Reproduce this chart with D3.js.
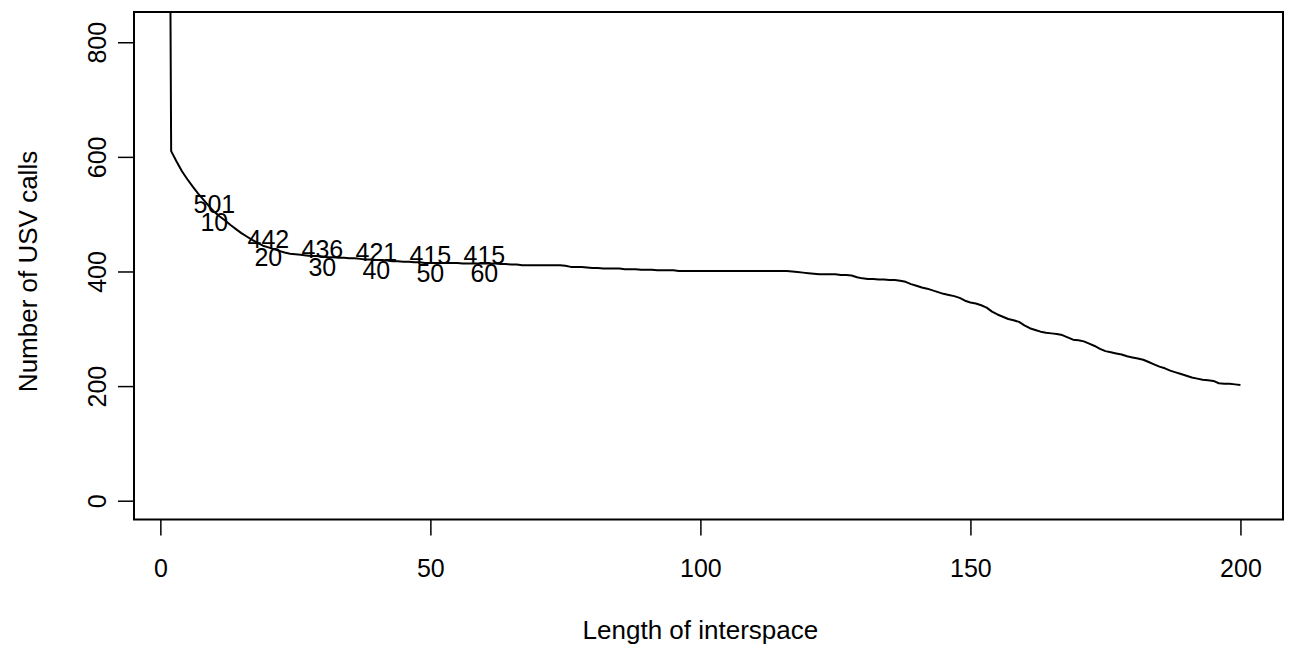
<!DOCTYPE html>
<html>
<head>
<meta charset="utf-8">
<script src="https://cdn.jsdelivr.net/npm/d3@7"></script>
<style>
  body { margin: 0; background: #fff; }
  svg text { font-family: "Liberation Sans", Arial, Helvetica, sans-serif; fill: #000; }
</style>
</head>
<body>
<div id="chart"></div>
<script>
// size of the page
var w = 1290;
var h = 646;

// interspace lengths and number of calls (x = 1 is far above the visible range)
var lengths = d3.range(1, 201);
var calls = [2500,
  610, 592, 575, 561, 548, 536, 525, 514, 504,
  496, 489, 481, 474, 467, 461, 455, 450, 445, 442,
  439, 436, 433, 431, 430, 429, 428, 427, 427, 426,
  425, 425, 424, 424, 423, 423, 422, 421, 421, 420,
  420, 419, 418, 418, 417, 417, 416, 416, 415, 415,
  415, 415, 415, 415, 415, 414, 414, 414, 414, 414,
  414, 414, 413, 413, 412, 412, 411, 411, 411, 411,
  411, 411, 411, 411, 410, 408, 408, 408, 407, 406,
  406, 405, 405, 405, 405, 404, 404, 404, 403, 403,
  403, 402, 402, 402, 402, 401, 401, 401, 401, 401,
  401, 401, 401, 401, 401, 401, 401, 401, 401, 401,
  401, 401, 401, 401, 401, 401, 400, 399, 398, 397,
  396, 395, 395, 395, 395, 394, 394, 393, 390, 388,
  387, 387, 386, 386, 385, 385, 384, 382, 378, 375,
  372, 370, 367, 364, 361, 359, 357, 354, 349, 346,
  344, 341, 337, 330, 325, 321, 317, 315, 312, 306,
  301, 298, 295, 293, 292, 291, 289, 285, 281, 280,
  278, 274, 270, 265, 261, 259, 257, 255, 252, 250,
  248, 246, 242, 238, 234, 231, 227, 224, 221, 218,
  215, 213, 211, 210, 209, 205, 204, 204, 203, 202];

// annotated points
var labelX = [10, 20, 30, 40, 50, 60];
var labelCalls = [501, 442, 436, 421, 415, 415];

var xTicks = [0, 50, 100, 150, 200];
var yTicks = [0, 200, 400, 600, 800];

var mLeft = 134, mRight = 1283, mTop = 12, mBottom = 519.5;
var fs = "25px";

var x = d3.scaleLinear().domain([-4.88, 207.88]).range([mLeft, mRight]);
var y = d3.scaleLinear().domain([-32.8, 852.8]).range([mBottom, mTop]);

var svg = d3.select("#chart")
            .append("svg")
            .attr("width", w)
            .attr("height", h);

svg.append("defs").append("clipPath")
    .attr("id", "plotclip")
    .append("rect")
    .attr("x", mLeft).attr("y", mTop)
    .attr("width", mRight - mLeft).attr("height", mBottom - mTop);

var data = lengths.map(function(d, i){ return [d, calls[i]]; });

var line = d3.line()
            .x(function(d){ return x(d[0]); })
            .y(function(d){ return y(d[1]); });

svg.append("path")
    .datum(data)
    .attr("clip-path", "url(#plotclip)")
    .attr("d", line)
    .attr("fill", "none")
    .attr("stroke", "#000")
    .attr("stroke-width", 2)
    .attr("stroke-linejoin", "round");

// labels: number of calls above, interspace length below
labelX.forEach(function(lx, i){
    var v = calls[lengths.indexOf(lx)];
    svg.append("text")
        .attr("x", x(lx))
        .attr("y", y(v) - 8)
        .attr("dy", "0.36em")
        .attr("text-anchor", "middle")
        .style("font-size", fs)
        .text(labelCalls[i]);
    svg.append("text")
        .attr("x", x(lx))
        .attr("y", y(v) + 10)
        .attr("dy", "0.36em")
        .attr("text-anchor", "middle")
        .style("font-size", fs)
        .text(lx);
});

// box
svg.append("rect")
    .attr("x", mLeft).attr("y", mTop)
    .attr("width", mRight - mLeft).attr("height", mBottom - mTop)
    .attr("fill", "none")
    .attr("stroke", "#000")
    .attr("stroke-width", 2);

// axes
var xAxis = d3.axisBottom(x).tickValues(xTicks).tickSize(16).tickPadding(24)
                .tickFormat(d3.format("d"));
var gx = svg.append("g")
    .attr("transform", "translate(0," + mBottom + ")")
    .call(xAxis);
gx.select(".domain").remove();
gx.selectAll(".tick line").attr("stroke-width", 1.5);
gx.selectAll(".tick text").style("font-size", fs).attr("font-family", null);

var yAxis = d3.axisLeft(y).tickValues(yTicks).tickSize(16).tickFormat(d3.format("d"));
var gy = svg.append("g")
    .attr("transform", "translate(" + mLeft + ",0)")
    .call(yAxis);
gy.select(".domain").remove();
gy.selectAll(".tick line").attr("stroke-width", 1.5);
gy.selectAll(".tick text").remove();
gy.selectAll(".tick").append("text")
    .attr("transform", "translate(-28,0) rotate(-90)")
    .attr("text-anchor", "middle")
    .attr("fill", "#000")
    .style("font-size", fs)
    .text(function(d){ return d; });

// axis titles
svg.append("text")
    .attr("x", x(100))
    .attr("y", 639)
    .attr("text-anchor", "middle")
    .style("font-size", "26px")
    .text("Length of interspace");

svg.append("text")
    .attr("transform", "translate(37," + y(400) + ") rotate(-90)")
    .attr("text-anchor", "middle")
    .style("font-size", "26px")
    .text("Number of USV calls");
</script>
</body>
</html>
